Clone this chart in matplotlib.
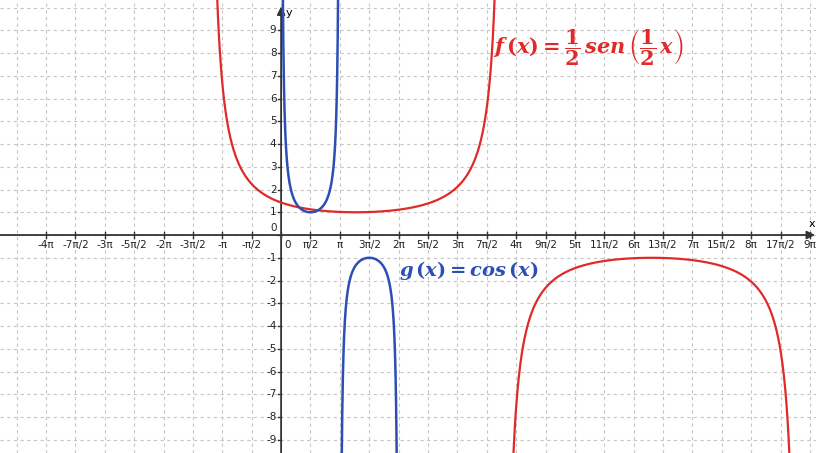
import matplotlib.pyplot as plt
import numpy as np

# Values
x_tick_labels = ['-4π', '-7π/2', '-3π', '-5π/2', '-2π', '-3π/2', '-π', '-π/2', '0',
                 'π/2', 'π', '3π/2', '2π', '5π/2', '3π', '7π/2', '4π', '9π/2', '5π',
                 '11π/2', '6π', '13π/2', '7π', '15π/2', '8π', '17π/2', '9π']
x_tick_halfpis = list(range(-8, 19))           # tick positions in units of π/2
y_ticks = list(range(-9, 10))

# asymptotes of each reciprocal-sine curve (branch edges)
red_asymptotes = [-3.9, 11.9, 27.7]
blue_asymptotes = [0, np.pi, 2 * np.pi]

xlim = (-15.03, 28.6)
ylim = (-9.58, 10.33)

red = '#e02a2a'
blue = '#2d4fb5'
grid_col = '#c6c6c6'


def branches(edges, n=600):
    # 1/sin between consecutive asymptotes, one array per branch
    out = []
    for a, b in zip(edges[:-1], edges[1:]):
        x = np.linspace(a, b, n)[1:-1]
        y = 1 / np.sin(np.pi * (x - a) / (b - a))
        if len(out) % 2 == 1:
            y = -y
        out.append((x, y))
    return out


plt.rcParams['mathtext.fontset'] = 'dejavuserif'

fig = plt.figure(figsize=(8.16, 4.53), dpi=100)
ax = fig.add_axes([0, 0, 1, 1])
ax.set_xlim(*xlim)
ax.set_ylim(*ylim)
ax.axis('off')

# grid
for k in range(-10, 20):
    ax.axvline(k * np.pi / 2, color=grid_col, lw=0.8, ls=(0, (3, 3)), zorder=0)
for k in range(-10, 11):
    ax.axhline(k, color=grid_col, lw=0.8, ls=(0, (3, 3)), zorder=0)

# axes with arrows
ax.annotate('', xy=(28.55, 0), xytext=(xlim[0], 0),
            arrowprops=dict(arrowstyle='-|>', color='#333333', lw=1.3,
                            mutation_scale=12, shrinkA=0, shrinkB=0), zorder=3)
ax.annotate('', xy=(0, 10.05), xytext=(0, ylim[0]),
            arrowprops=dict(arrowstyle='-|>', color='#333333', lw=1.3,
                            mutation_scale=12, shrinkA=0, shrinkB=0), zorder=3)
ax.text(28.4, 0.25, 'x', fontsize=8, ha='center', va='bottom')
ax.text(0.25, 9.75, 'y', fontsize=8, ha='left', va='center')

# ticks and labels on x axis
for k, lab in zip(x_tick_halfpis, x_tick_labels):
    xv = k * np.pi / 2
    ax.plot([xv, xv], [-0.12, 0.12], color='#333333', lw=1.0, zorder=3)
    if lab == '0':
        ax.text(xv + 0.18, -0.45, lab, fontsize=7.5, ha='left', va='center', color='#222222')
    else:
        ax.text(xv, -0.45, lab, fontsize=7.5, ha='center', va='center', color='#222222')

# ticks and labels on y axis
for v in y_ticks:
    ax.plot([-0.15, 0], [v, v], color='#333333', lw=1.0, zorder=3)
    if v == 0:
        ax.text(-0.25, 0.32, '0', fontsize=7.5, ha='right', va='center', color='#222222')
    else:
        ax.text(-0.25, v, str(v), fontsize=7.5, ha='right', va='center', color='#222222')

# curves
for x, y in branches(red_asymptotes):
    ax.plot(x, y, color=red, lw=1.6, zorder=4)
for x, y in branches(blue_asymptotes):
    ax.plot(x, y, color=blue, lw=1.8, zorder=5)

# formulas
ax.text(11.35, 8.25,
        r'$\mathbfit{f}\,\mathbf{(}\mathbfit{x}\mathbf{)}\mathbf{=}\dfrac{\mathbf{1}}{\mathbf{2}}'
        r'\,\mathbfit{sen}\,\left(\dfrac{\mathbf{1}}{\mathbf{2}}\,\mathbfit{x}\right)$',
        color=red, fontsize=15, ha='left', va='center')
ax.text(6.3, -1.55,
        r'$\mathbfit{g}\,\mathbf{(}\mathbfit{x}\mathbf{)}\mathbf{=}\mathbfit{cos}\,\mathbf{(}\mathbfit{x}\mathbf{)}$',
        color=blue, fontsize=14, ha='left', va='center')

plt.savefig('out.png', dpi=100)
